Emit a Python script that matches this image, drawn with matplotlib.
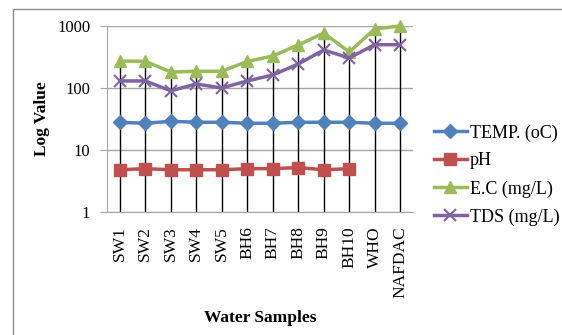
import numpy as np
import matplotlib
matplotlib.use("Agg")
import matplotlib.pyplot as plt
from matplotlib.patches import Rectangle

plt.rcParams['font.family'] = ['Liberation Serif', 'DejaVu Serif']

samples = ['SW1', 'SW2', 'SW3', 'SW4', 'SW5', 'BH6', 'BH7', 'BH8', 'BH9', 'BH10', 'WHO', 'NAFDAC']
temp = [28, 27, 29, 28, 28, 27, 27, 28, 28, 28, 27, 27]
ph = [4.8, 5.0, 4.8, 4.8, 4.8, 5.0, 5.0, 5.2, 4.8, 5.0, np.nan, np.nan]
ec = [272, 270, 181, 186, 186, 268, 328, 494, 771, 381, 895, 1000]
tds = [130, 130, 90, 116, 100, 130, 162, 244, 410, 305, 500, 500]

series = [
    ('TEMP. (oC)', temp, '#4F81BD', 'D', 7),
    ('pH', ph, '#C0504D', 's', 8),
    ('E.C (mg/L)', ec, '#9BBB59', '^', 9),
    ('TDS (mg/L)', tds, '#8064A2', 'x', 9),
]

fig = plt.figure(figsize=(5.62, 3.35), dpi=100)
fig.patches.append(Rectangle((13 / 562, -0.1), 1.0, 1 - 9 / 335 + 0.1, transform=fig.transFigure,
                             fill=False, edgecolor='#8c8c8c', lw=1))
ax = fig.add_axes([107 / 562, 1 - 212 / 335, 306 / 562, 186 / 335])

x = np.arange(len(samples))
ax.set_yscale('log')
ax.set_ylim(1, 1000)
ax.set_xlim(-0.5, len(samples) - 0.5)

# drop lines from the highest point of each category to the axis
tops = np.nanmax(np.array([temp, ph, ec, tds], dtype=float), axis=0)
ax.vlines(x, 1, tops, colors='black', lw=1, zorder=2)

for name, vals, col, mk, ms in series:
    ax.plot(x, vals, color=col, lw=2.5, marker=mk, ms=ms, mew=1.5 if mk == 'x' else 1,
            label=name, zorder=3, clip_on=False)

ax.yaxis.grid(True, color='#a6a6a6', lw=1)
ax.set_axisbelow(True)
for s in ['top', 'right']:
    ax.spines[s].set_visible(False)
ax.spines['left'].set_color('#a6a6a6')
ax.spines['bottom'].set_color('#a6a6a6')
ax.set_yticks([1, 10, 100, 1000])
ax.set_yticklabels(['1', '10', '100', '1000'])
ax.minorticks_off()
ax.tick_params(axis='y', length=5, color='#a6a6a6', pad=7, labelsize=12)
ax.tick_params(axis='x', length=0, pad=10, labelsize=12.5)
ax.set_xticks(x)
ax.set_xticklabels(samples, rotation=90)

ax.set_ylabel('Log Value', fontsize=12.5, fontweight='bold', labelpad=5)
ax.set_xlabel('Water Samples', fontsize=12.5, fontweight='bold', labelpad=9)

fig.legend(loc='center left', bbox_to_anchor=(434 / 562, 1 - 175 / 335), frameon=False,
           fontsize=13, handlelength=1.8, handletextpad=0.2, labelspacing=0.6,
           borderpad=0, borderaxespad=0)

fig.savefig('out.png', dpi=100)
